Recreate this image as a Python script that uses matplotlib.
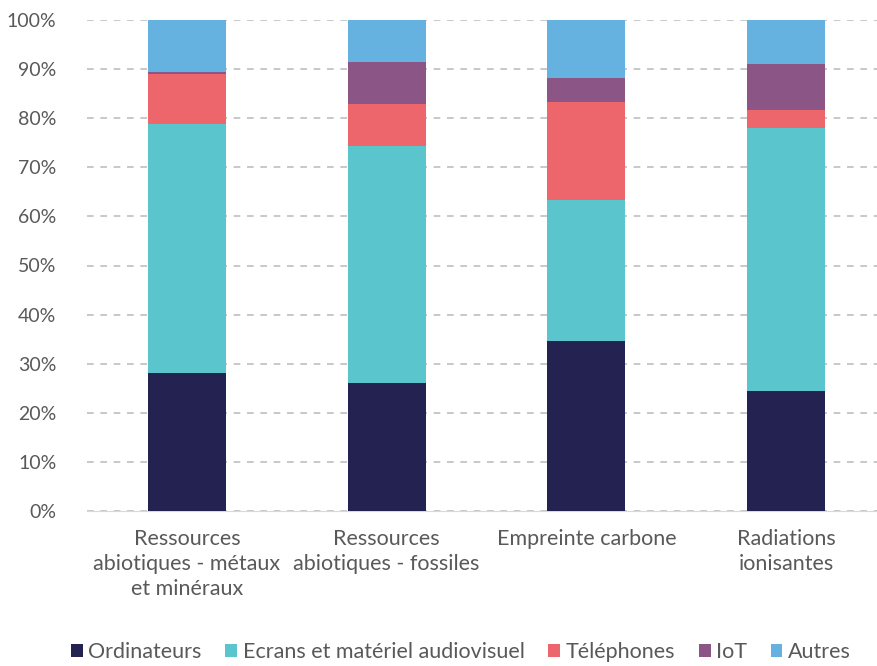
import matplotlib.pyplot as plt
import numpy as np

plt.rcParams['font.family'] = ['Lato', 'DejaVu Sans']

categories = ['Ressources\nabiotiques - métaux\net minéraux',
              'Ressources\nabiotiques - fossiles',
              'Empreinte carbone',
              'Radiations\nionisantes']
series = ['Ordinateurs', 'Ecrans et matériel audiovisuel', 'Téléphones', 'IoT', 'Autres']
ordinateurs = [28.1, 26.1, 34.6, 24.4]
ecrans = [50.7, 48.2, 28.7, 53.6]
telephones = [10.3, 8.6, 20.0, 3.6]
iot = [0.4, 8.6, 4.9, 9.4]
autres = [10.5, 8.5, 11.8, 9.0]
colors = ['#232250', '#5bc5cd', '#ec666c', '#8b5585', '#65b1df']

values = [ordinateurs, ecrans, telephones, iot, autres]

fig = plt.figure(figsize=(8.78, 6.66), dpi=100)
ax = fig.add_axes([87/878, 155/666, 791/878, 491/666])

x = np.arange(len(categories))
bottom = np.zeros(len(categories))
for name, vals, c in zip(series, values, colors):
    ax.bar(x, vals, 0.39, bottom=bottom, color=c, label=name, zorder=3)
    bottom += np.array(vals)

ax.set_ylim(0, 100)
ax.set_xlim(-0.5, 3.46)
ax.set_yticks(np.arange(0, 101, 10))
ax.set_yticklabels([f'{v}%' for v in range(0, 101, 10)], fontsize=14, color='#595959')
ax.set_xticks(x)
ax.set_xticklabels(categories, fontsize=15.5, color='#595959', linespacing=1.3)
ax.tick_params(axis='both', length=0)
ax.tick_params(axis='x', pad=13)
ax.tick_params(axis='y', pad=22)
ax.yaxis.grid(True, color='#bfbfbf', linestyle=(0, (4, 4)), linewidth=1.2, zorder=0)
for s in ['top', 'right', 'left']:
    ax.spines[s].set_visible(False)
ax.spines['bottom'].set_color('#d9d9d9')

leg = fig.legend(loc='center', bbox_to_anchor=(0.525, 0.021), ncol=5, frameon=False,
                 fontsize=15.5, handlelength=0.55, handleheight=0.55, handletextpad=0.25,
                 columnspacing=1.1)
for t in leg.get_texts():
    t.set_color('#595959')

plt.savefig('out.png', dpi=100)
